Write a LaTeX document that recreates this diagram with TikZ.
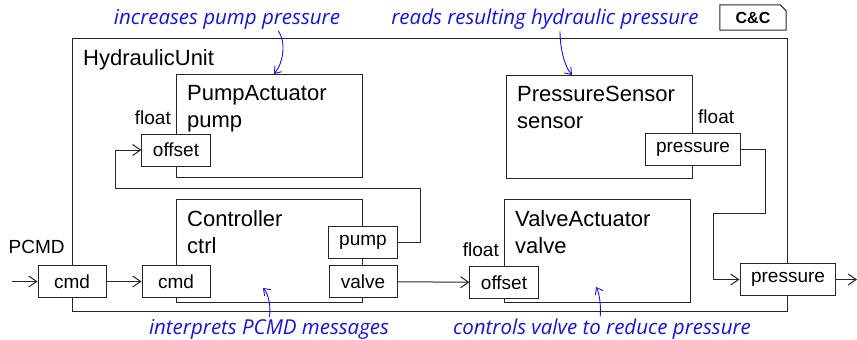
\documentclass[tikz,border=0pt]{standalone}
\usepackage{fontspec}
\setmainfont{Liberation Sans}
\newfontfamily\notefont{Open Sans}
\usetikzlibrary{arrows.meta, positioning, calc}
\definecolor{huLine}{HTML}{262626}
\definecolor{huNote}{HTML}{1414D6}
\tikzset{
  hu-comp/.style={
    rectangle, draw=huLine, line width=1pt, fill=white,
    minimum width=186pt, minimum height=103pt, anchor=north west
  },
  hu-name/.style={
    anchor=north west, align=left, inner xsep=11pt, inner ysep=11pt,
    font=\fontsize{22}{27}\selectfont
  },
  hu-port/.style={
    rectangle, draw=huLine, line width=1pt, fill=white,
    minimum width=68pt, minimum height=32pt, inner xsep=11pt, inner ysep=0pt,
    font=\fontsize{19}{22}\selectfont
  },
  hu-type/.style={anchor=base east, inner sep=0pt, font=\fontsize{19}{22}\selectfont},
  hu-note/.style={text=huNote, inner sep=0pt, font=\notefont\itshape\fontsize{20.5}{24}\selectfont},
  hu-flow/.style={-{Straight Barb[length=8pt, width=11pt]}, draw=huLine, line width=1pt},
  hu-wire/.style={draw=huLine, line width=1pt},
  hu-point/.style={-{Straight Barb[length=6pt, width=9pt]}, draw=huNote, line width=0.9pt, shorten <=2pt},
}

\begin{document}
\begin{tikzpicture}[x=1pt, y=-1pt]
  \useasboundingbox (0,0) rectangle (857,340);

  % outer component
  \node[hu-comp, minimum width=715pt, minimum height=273pt] (hu) at (72,38) {};
  \node[hu-name] (huName) at (hu.north west) {HydraulicUnit};

  % view tag
  \node[font=\bfseries\fontsize{16}{19}\selectfont, minimum width=66pt, minimum height=25pt]
                                                (cc) at (753,17.5) {C\&C};
  \draw[hu-wire] (cc.south west) -- (cc.north west) -- ($(cc.north east)+(-6,0)$)
                 -- ($(cc.north east)+(0,6)$) -- (cc.south east) -- cycle;

  % subcomponents
  \node[hu-comp] (pump) at (176,74) {};
  \node[hu-name] (pumpName) at (pump.north west) {PumpActuator\\pump};
  \node[hu-comp] (ctrl) at (176,199) {};
  \node[hu-name] (ctrlName) at (ctrl.north west) {Controller\\ctrl};
  \node[hu-comp] (sensor) at (506,75) {};
  \node[hu-name] (sensorName) at (sensor.north west) {PressureSensor\\sensor};
  \node[hu-comp] (valve) at (504,199) {};
  \node[hu-name] (valveName) at (valve.north west) {ValveActuator\\valve};

  % ports
  \node[hu-port] (pumpOff) at (pump.west |- 0,150) {offset};
  \node[hu-port] (ctrlCmd) at (ctrl.west |- 0,281.5) {cmd};
  \node[hu-port] (ctrlPump) at (ctrl.east |- 0,242.5) {pump};
  \node[hu-port] (ctrlValve) at (ctrl.east |- 0,281.5) {valve};
  \node[hu-port] (valveOff) at (valve.west |- 0,282.5) {offset};
  \node[hu-port] (sensorPr) at (sensor.east |- 0,149.5) {pressure};
  \node[hu-port] (huCmd) at (hu.west |- 0,281.5) {cmd};
  \node[hu-port] (huPr) at (hu.east |- 0,279.5) {pressure};

  % port types
  \node[hu-type] (pumpT) at ($(pumpOff.north -| pump.west)+(-5,-9)$) {float};
  \node[hu-type] (valveT) at ($(valveOff.north -| valve.west)+(-5,-10)$) {float};
  \node[hu-type, anchor=base west] (sensorT) at ($(sensorPr.north -| sensor.east)+(5,-10)$) {float};
  \node[hu-type, anchor=base west] (pcmd) at ($(huCmd.north west)+(-29,-12)$) {PCMD};

  % connectors
  \coordinate (pcmdIn) at (12,281.5);
  \coordinate (prOut) at (857,279.5);
  \coordinate (fbR) at (420,188);
  \coordinate (fbL) at (115,188);
  \coordinate (prR) at (765,213);
  \coordinate (prL) at (713,213);

  \draw[hu-flow] (pcmdIn) -- (huCmd);
  \draw[hu-flow] (huCmd) -- (ctrlCmd);
  \draw[hu-flow] (ctrlValve) -- (valveOff);
  \draw[hu-flow] (ctrlPump.east) -| (fbR) -- (fbL) |- (pumpOff.west);
  \draw[hu-flow] (sensorPr.east) -| (prR) -- (prL) |- (huPr.west);
  \draw[hu-flow] (huPr) -- (prOut);

  % notes
  \node[hu-note] (noteP) at (227,19) {increases pump pressure};
  \node[hu-note] (noteS) at (545,19) {reads resulting hydraulic pressure};
  \node[hu-note] (noteC) at (269,329) {interprets PCMD messages};
  \node[hu-note] (noteV) at (602,329) {controls valve to reduce pressure};

  \draw[hu-point] (277,0 |- noteP.south) .. controls +(9,12) and +(10,-12) .. (274,0 |- pump.north);
  \draw[hu-point] (560,0 |- noteS.south) .. controls +(0,17) and +(-8,-9) .. (572,0 |- sensor.north);
  \draw[hu-point] (269,0 |- noteC.north) .. controls +(2,-10) and +(6,6) .. ($(263,0 |- ctrl.south)+(0,-15)$);
  \draw[hu-point] (600,0 |- noteV.north) .. controls +(1,-10) and +(4,7) .. ($(596,0 |- valve.south)+(0,-16)$);
\end{tikzpicture}
\end{document}
